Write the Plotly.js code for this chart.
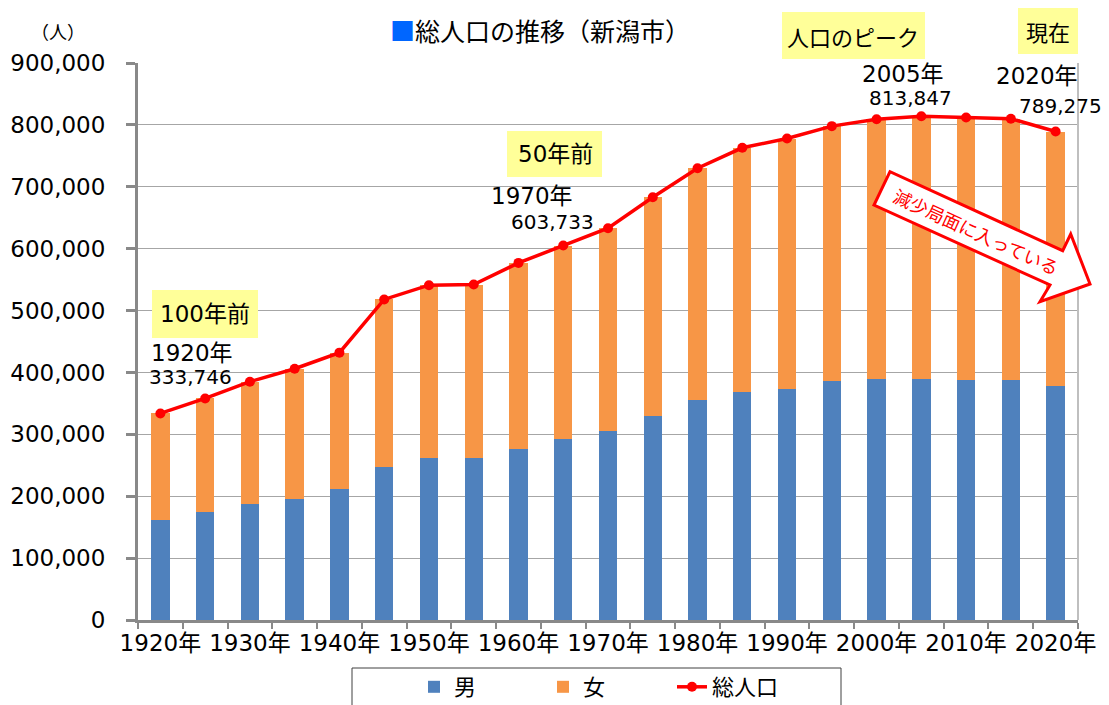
<!DOCTYPE html>
<html>
<head>
<meta charset="utf-8">
<script src="https://cdn.plot.ly/plotly-3.0.1.min.js"></script>
<style>
  html, body { margin: 0; padding: 0; background: #fff; }
  #chart { width: 1109px; height: 705px; }
</style>
</head>
<body>
<div id="chart"></div>
<script>
// ---- data ----
const years = ["1920","1925","1930","1935","1940","1945","1950","1955","1960","1965","1970",
               "1975","1980","1985","1990","1995","2000","2005","2010","2015","2020"];
const tickLabels = ["1920年","","1930年","","1940年","","1950年","","1960年","","1970年",
                    "","1980年","","1990年","","2000年","","2010年","","2020年"];
const male   = [162000,175000,187000,196000,211000,248000,261000,261000,277000,292000,305000,
                329000,355000,369000,374000,386000,390000,390000,388000,388000,378000];
const female = [171746,183000,198000,210000,221000,270000,280000,281000,300000,313000,328000,
                354000,375000,394000,404000,412000,419000,423847,424000,422000,411275];
const total  = [333746,358000,385000,406000,432000,518000,541000,542000,577000,605000,633000,
                683000,730000,763000,778000,798000,809000,813847,812000,810000,789275];

// ---- layout helpers (pixel -> paper) ----
const L = 138, R = 1078, T = 63, B = 620;
const px = x => (x - L) / (R - L);
const py = y => (B - y) / (B - T);

const FONT = "DejaVu Sans, 'Noto Sans CJK JP', sans-serif";
const JFONT = "'Noto Sans CJK JP', sans-serif";

const traces = [
  { type: "bar", name: "男", x: years, y: male, marker: { color: "#4F81BD" } },
  { type: "bar", name: "女", x: years, y: female, marker: { color: "#F79646" } },
  { type: "scatter", mode: "lines+markers", name: "総人口", x: years, y: total,
    line: { color: "#FF0000", width: 3.5 }, marker: { color: "#FF0000", size: 10 } }
];

function yellowBox(x0, y0, x1, y1) {
  return { type: "rect", xref: "paper", yref: "paper", x0: px(x0), x1: px(x1), y0: py(y1), y1: py(y0),
           fillcolor: "#FFFF99", line: { width: 0 }, layer: "above" };
}
function txt(text, x, y, size, color, family) {
  return { text: text, xref: "paper", yref: "paper", x: px(x), y: py(y),
    xanchor: "center", yanchor: "middle", showarrow: false,
    font: { family: family || FONT, size: size, color: color || "#000" } };
}

// arrow polygon (pixels)
const arrowPts = [[890,171.7],[874,205],[1050,285],[1040,301.7],[1090,284],[1070.7,234],[1062.7,250.7]];
const arrowPath = "M" + arrowPts.map(p => px(p[0]) + "," + py(p[1])).join(" L") + " Z";

const layout = {
  width: 1109, height: 705,
  margin: { l: L, r: 1109 - R, t: T, b: 705 - B, pad: 0, autoexpand: false },
  paper_bgcolor: "#fff", plot_bgcolor: "#fff",
  barmode: "stack", bargap: 0.59,
  font: { family: FONT, size: 22, color: "#000" },
  xaxis: {
    type: "category", tickmode: "array", tickvals: years, ticktext: tickLabels,
    range: [-0.5, 20.5], automargin: false,
    tickson: "boundaries", ticks: "outside", ticklen: 6, tickwidth: 2, tickcolor: "#898989",
    showline: true, linecolor: "#898989", linewidth: 3, showgrid: false,
    tickfont: { family: FONT, size: 23 }, tickangle: 0
  },
  yaxis: {
    range: [0, 900000], dtick: 100000, tickformat: ",d", automargin: false,
    showgrid: true, gridcolor: "#A6A6A6", gridwidth: 1,
    showline: true, linecolor: "#898989", linewidth: 3,
    ticks: "outside", ticklen: 9, tickwidth: 3, tickcolor: "#898989",
    ticklabelstandoff: 16, zeroline: false,
    tickfont: { family: FONT, size: 23 }
  },
  legend: {
    orientation: "h", traceorder: "normal",
    x: px(414), y: py(666), xanchor: "left", yanchor: "top",
    borderwidth: 0, bgcolor: "rgba(0,0,0,0)",
    font: { family: JFONT, size: 22 }, entrywidth: 84, entrywidthmode: "pixels", itemwidth: 30
  },
  shapes: [
    { type: "line", xref: "paper", yref: "paper", x0: 1, x1: 1, y0: 0, y1: 1,
      line: { color: "#BFBFBF", width: 2 } },
    { type: "rect", xref: "paper", yref: "paper", x0: px(352), x1: px(841), y0: py(712), y1: py(668),
      fillcolor: "rgba(0,0,0,0)", line: { color: "#404040", width: 1 } },
    yellowBox(152, 290, 258, 338),
    yellowBox(507, 131, 602, 177),
    yellowBox(782, 12, 925, 59),
    yellowBox(1018, 8, 1078, 54),
    { type: "path", xref: "paper", yref: "paper", path: arrowPath,
      fillcolor: "#FFFFFF", line: { color: "#FF0000", width: 3 }, layer: "above" }
  ],
  annotations: [
    { text: "<span style='color:#0066FF'>■</span>総人口の推移（新潟市）", xref: "paper", yref: "paper",
      x: px(540), y: py(30), xanchor: "center", yanchor: "middle", showarrow: false,
      font: { family: JFONT, size: 25, color: "#000" } },
    txt("（人）", 58, 31, 18, "#000", JFONT),
    txt("100年前", 205, 314, 23),
    txt("50年前", 555, 154, 23),
    txt("人口のピーク", 853, 36, 22, "#000", JFONT),
    txt("現在", 1048, 31, 22, "#000", JFONT),
    txt("1920年", 192, 353, 23),
    txt("333,746", 190, 377, 20),
    txt("1970年", 532, 196, 23),
    txt("603,733", 552, 222, 20),
    txt("2005年", 903, 74, 23),
    txt("813,847", 910, 98, 20),
    txt("2020年", 1037, 76, 23),
    txt("789,275", 1060, 106, 20),
    Object.assign(txt("減少局面に入っている", 976, 231, 18, "#FF0000", JFONT), { textangle: 24.6 })
  ]
};

Plotly.newPlot("chart", traces, layout, { displayModeBar: false, staticPlot: true });
</script>
</body>
</html>
